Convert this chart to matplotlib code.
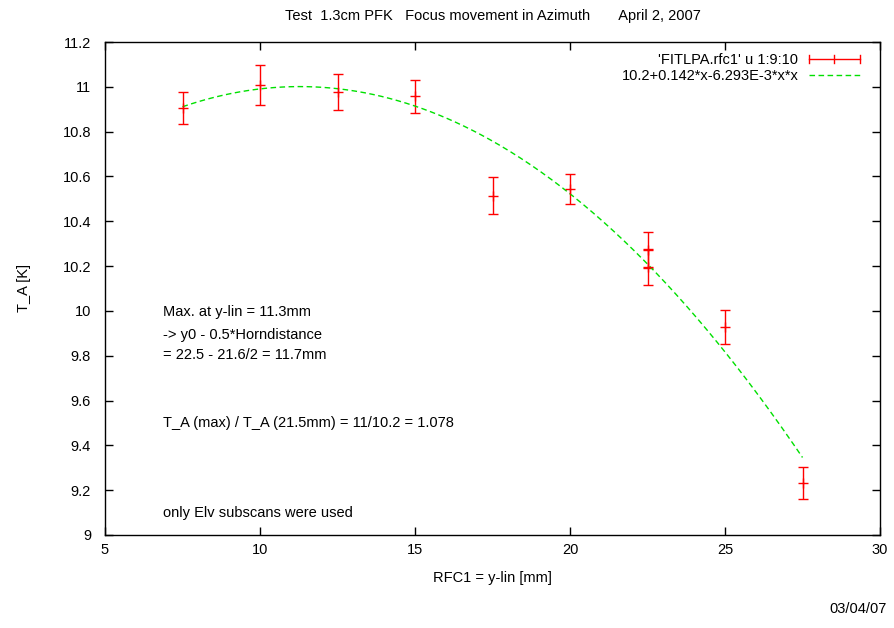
import numpy as np
import matplotlib
matplotlib.use("Agg")
import matplotlib.pyplot as plt
from matplotlib.lines import Line2D
from matplotlib.legend_handler import HandlerBase

plt.rcParams['font.family'] = ['Liberation Sans', 'DejaVu Sans']

# data
x_pos = [7.5, 10.0, 12.5, 15.0, 17.5, 20.0, 22.5, 22.5, 25.0, 27.5]
t_a = [10.905, 11.007, 10.977, 10.958, 10.515, 10.545, 10.27, 10.195, 9.927, 9.232]
t_err = [0.072, 0.089, 0.082, 0.074, 0.081, 0.068, 0.08, 0.08, 0.076, 0.073]

fit_a, fit_b, fit_c = 10.2, 0.142, -6.293e-3
fit_range = [7.5, 27.5]

title = "Test  1.3cm PFK   Focus movement in Azimuth       April 2, 2007"
xlabel = "RFC1 = y-lin [mm]"
ylabel = "T_A [K]"
legend_data = "'FITLPA.rfc1' u 1:9:10"
legend_fit = "10.2+0.142*x-6.293E-3*x*x"
notes = ["Max. at y-lin = 11.3mm",
         "-> y0 - 0.5*Horndistance",
         "= 22.5 - 21.6/2 = 11.7mm",
         "T_A (max) / T_A (21.5mm) = 11/10.2 = 1.078",
         "only Elv subscans were used"]
note_y = [9.995, 9.893, 9.803, 9.50, 9.10]
date_stamp = "03/04/07"
xticks = [5, 10, 15, 20, 25, 30]
yticks = [9, 9.2, 9.4, 9.6, 9.8, 10, 10.2, 10.4, 10.6, 10.8, 11, 11.2]
ytick_labels = ["9", "9.2", "9.4", "9.6", "9.8", "10", "10.2", "10.4", "10.6", "10.8", "11", "11.2"]

RED = '#ff0000'
GREEN = '#00e000'
fs = 10.5


class HandlerHErr(HandlerBase):
    def create_artists(self, legend, orig_handle, xdescent, ydescent, width,
                       height, fontsize, trans):
        y = height / 2 - ydescent
        x0 = -xdescent
        x1 = width - xdescent
        xm = (x0 + x1) / 2
        c = 3.0
        arts = [Line2D([x0, x1], [y, y], color=RED, lw=1.0),
                Line2D([x0, x0], [y - c, y + c], color=RED, lw=1.0),
                Line2D([x1, x1], [y - c, y + c], color=RED, lw=1.0),
                Line2D([xm, xm], [y - c, y + c], color=RED, lw=1.0)]
        for a in arts:
            a.set_transform(trans)
        return arts


fig = plt.figure(figsize=(8.94, 6.28), dpi=100)
ax = fig.add_axes([105/894, (628-535)/628, (880-105)/894, (535-42)/628])

ax.errorbar(x_pos, t_a, yerr=t_err, fmt='+', color=RED, ecolor=RED,
            elinewidth=1.0, capsize=3.5, capthick=1.0, markersize=7, mew=1.0)
xf = np.linspace(fit_range[0], fit_range[1], 300)
yf = fit_a + fit_b * xf + fit_c * xf * xf
fit_line, = ax.plot(xf, yf, color=GREEN, lw=1.0, linestyle=(0, (4, 2.5)))

ax.set_xlim(5, 30)
ax.set_ylim(9, 11.2)
ax.set_xticks(xticks)
ax.set_xticklabels([str(t) for t in xticks])
ax.set_yticks(yticks)
ax.set_yticklabels(ytick_labels)
ax.tick_params(axis='both', direction='in', length=6, width=1.0, labelsize=fs,
               top=True, right=True)
ax.tick_params(axis='y', pad=10)
ax.tick_params(axis='x', pad=6)
for s in ax.spines.values():
    s.set_linewidth(1.0)

ax.set_title(title, fontsize=fs, pad=16)
ax.set_xlabel(xlabel, fontsize=fs, labelpad=10)
ax.set_ylabel(ylabel, fontsize=fs, labelpad=23)

for t, yv in zip(notes, note_y):
    ax.text(6.87, yv, t, fontsize=fs, ha='left', va='center')

data_proxy = object()
leg = ax.legend([data_proxy, fit_line], [legend_data, legend_fit],
                handler_map={data_proxy: HandlerHErr()},
                loc='upper right', frameon=False, markerfirst=False, fontsize=fs,
                handlelength=3.5, borderaxespad=0.3, labelspacing=0.1,
                handletextpad=0.7, bbox_to_anchor=(0.987, 0.998))

fig.text(887/894, 1 - 609/628, date_stamp, fontsize=fs, ha='right', va='center')

fig.savefig("out.png", dpi=100)
